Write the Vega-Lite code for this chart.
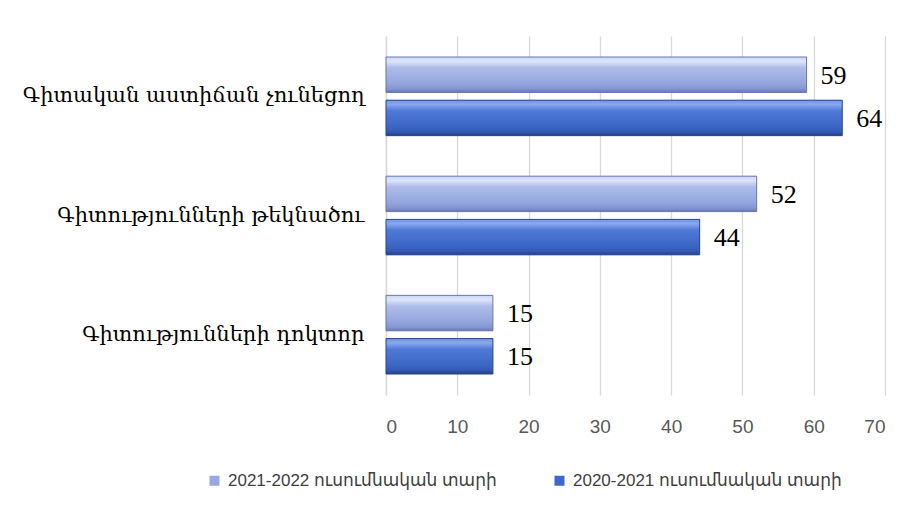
{
  "$schema": "https://vega.github.io/schema/vega-lite/v6.json",
  "width": 499,
  "height": 359,
  "autosize": {"type": "none"},
  "padding": {"left": 386, "top": 36, "right": 30, "bottom": 121},
  "background": "white",
  "data": {
    "values": [
      {"category": "Գիտական աստիճան չունեցող", "series": "2021-2022 ուսումնական տարի", "value": 59},
      {"category": "Գիտական աստիճան չունեցող", "series": "2020-2021 ուսումնական տարի", "value": 64},
      {"category": "Գիտությունների թեկնածու", "series": "2021-2022 ուսումնական տարի", "value": 52},
      {"category": "Գիտությունների թեկնածու", "series": "2020-2021 ուսումնական տարի", "value": 44},
      {"category": "Գիտությունների դոկտոր", "series": "2021-2022 ուսումնական տարի", "value": 15},
      {"category": "Գիտությունների դոկտոր", "series": "2020-2021 ուսումնական տարի", "value": 15}
    ]
  },
  "encoding": {
    "y": {
      "field": "category", "type": "nominal", "sort": null, "title": null,
      "scale": {"paddingInner": 0.34, "paddingOuter": 0.176},
      "axis": {
        "labelFont": "'DejaVu Serif', 'DejaVu Sans'", "labelFontSize": 21, "labelColor": "#000000",
        "labelLimit": 400, "labelPadding": 22, "ticks": false,
        "domain": true, "domainColor": "#d9d9d9", "domainWidth": 1.5
      }
    },
    "yOffset": {
      "field": "series", "type": "nominal",
      "scale": {"domain": ["2021-2022 ուսումնական տարի", "2020-2021 ուսումնական տարի"], "paddingInner": 0.18}
    },
    "x": {
      "field": "value", "type": "quantitative", "title": null,
      "scale": {"domain": [0, 70], "nice": false},
      "axis": {
        "values": [0, 10, 20, 30, 40, 50, 60, 70],
        "grid": true, "gridColor": "#d9d9d9", "gridWidth": 1.3,
        "domain": false, "ticks": false,
        "labelFont": "'Liberation Sans', 'DejaVu Sans'", "labelFontSize": 19, "labelColor": "#595959",
        "labelPadding": 22
      }
    }
  },
  "layer": [
    {
      "mark": {"type": "bar"},
      "encoding": {
        "color": {
          "field": "series", "type": "nominal", "title": null,
          "scale": {"domain": ["2021-2022 ուսումնական տարի", "2020-2021 ուսումնական տարի"], "range": ["#97a9e0", "#3d67c8"]},
          "legend": {
            "orient": "none", "legendX": -180, "legendY": 436, "direction": "horizontal",
            "symbolType": "square", "symbolSize": 100, "symbolStrokeWidth": 0,
            "labelFont": "'Liberation Sans', 'DejaVu Sans'", "labelFontSize": 17, "labelColor": "#404040",
            "labelLimit": 400, "columnPadding": 54, "labelOffset": 5
          }
        }
      }
    },
    {
      "transform": [{"filter": "datum.series === '2021-2022 ուսումնական տարի'"}],
      "mark": {
        "type": "bar", "stroke": "#6a7bb2", "strokeWidth": 1,
        "fill": {
          "gradient": "linear", "x1": 0, "y1": 0, "x2": 0, "y2": 1,
          "stops": [
            {"offset": 0, "color": "#c9d4f6"},
            {"offset": 0.12, "color": "#dfe6fb"},
            {"offset": 0.3, "color": "#aebde9"},
            {"offset": 0.75, "color": "#93a5dd"},
            {"offset": 0.9, "color": "#8496d1"},
            {"offset": 1, "color": "#6677ad"}
          ]
        }
      }
    },
    {
      "transform": [{"filter": "datum.series === '2020-2021 ուսումնական տարի'"}],
      "mark": {
        "type": "bar", "stroke": "#2a4a8e", "strokeWidth": 1,
        "fill": {
          "gradient": "linear", "x1": 0, "y1": 0, "x2": 0, "y2": 1,
          "stops": [
            {"offset": 0, "color": "#6f93e6"},
            {"offset": 0.12, "color": "#8aa8ef"},
            {"offset": 0.3, "color": "#5079d6"},
            {"offset": 0.75, "color": "#3c66c6"},
            {"offset": 0.9, "color": "#3459b2"},
            {"offset": 1, "color": "#223f83"}
          ]
        }
      }
    },
    {
      "mark": {"type": "text", "align": "left", "baseline": "middle", "dx": 14, "dy": 1, "font": "'Liberation Serif', 'DejaVu Serif'", "fontSize": 26, "color": "#000000"},
      "encoding": {"text": {"field": "value", "type": "quantitative"}}
    }
  ],
  "config": {"view": {"stroke": null}}
}
